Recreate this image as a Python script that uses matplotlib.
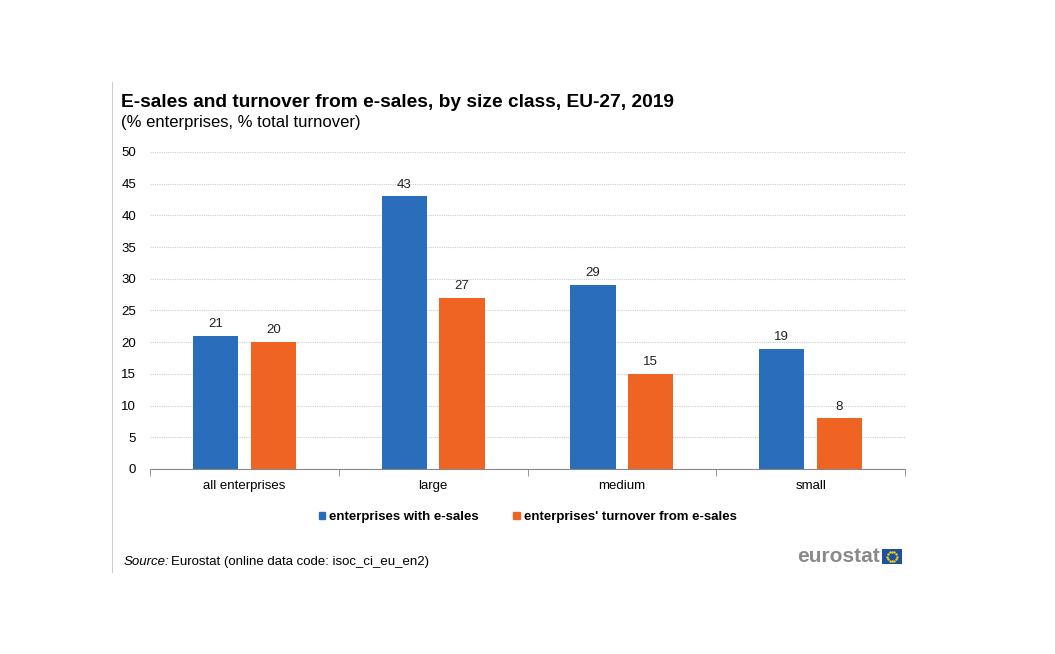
import matplotlib.pyplot as plt
import numpy as np
from matplotlib.patches import Rectangle

plt.rcParams['font.family'] = ['Liberation Sans', 'DejaVu Sans']

categories = ["all enterprises", "large", "medium", "small"]
ent_with_esales = [21, 43, 29, 19]
turnover_esales = [20, 27, 15, 8]
series_names = ["enterprises with e-sales", "enterprises' turnover from e-sales"]

blue = "#2A6EBB"
orange = "#F06423"

fig = plt.figure(figsize=(10.55, 6.54), dpi=100)
ax = fig.add_axes([0.1422, 0.2829, 0.7156, 0.4847])

x = np.arange(len(categories))
w = 0.24
off = 0.153
b1 = ax.bar(x - off, ent_with_esales, w, color=blue)
b2 = ax.bar(x + off, turnover_esales, w, color=orange)
for bars, vals in ((b1, ent_with_esales), (b2, turnover_esales)):
    for r, v in zip(bars, vals):
        ax.text(r.get_x() + r.get_width() / 2, v + 0.9, str(v), ha="center",
                va="bottom", fontsize=9.5, color="#222222")

ax.set_xlim(-0.5, len(categories) - 0.5)
ax.set_ylim(0, 50)
ax.set_yticks(range(0, 51, 5))
ax.set_xticks(x)
ax.set_xticklabels(categories, fontsize=9.5)
ax.set_xticks(np.arange(-0.5, len(categories), 1), minor=True)
ax.tick_params(axis="x", which="major", length=0, pad=8)
ax.tick_params(axis="x", which="minor", length=5, color="#888888")
ax.tick_params(axis="y", length=0, labelsize=9.5, pad=10)
ax.yaxis.grid(True, color="#cccccc", linestyle=(0, (1, 1)), linewidth=0.8)
ax.set_axisbelow(True)
for s in ("top", "right", "left"):
    ax.spines[s].set_visible(False)
ax.spines["bottom"].set_color("#888888")

fig.text(0.1145, 0.836, "E-sales and turnover from e-sales, by size class, EU-27, 2019",
         fontsize=13.8, fontweight="bold")
fig.text(0.1145, 0.806, "(% enterprises, % total turnover)", fontsize=12)

leg = fig.legend([Rectangle((0, 0), 1, 1, color=blue), Rectangle((0, 0), 1, 1, color=orange)],
                 series_names, loc="center", bbox_to_anchor=(0.5, 0.209), ncol=2,
                 frameon=False, handlelength=0.5, handleheight=0.5, handletextpad=0.3,
                 columnspacing=2.6, prop={"weight": "bold", "size": 9.5})

fig.text(0.1175, 0.141, "Source:", fontsize=9.5, style="italic", va="center")
fig.text(0.162, 0.141, "Eurostat (online data code: isoc_ci_eu_en2)", fontsize=9.5, va="center")
fig.text(0.834, 0.149, "eurostat", fontsize=15, fontweight="bold", color="#8a8a8a",
         ha="right", va="center")
fig.patches.append(Rectangle((0.836, 0.137), 0.019, 0.024, transform=fig.transFigure,
                             facecolor="#1F4FA0", edgecolor="none"))
ang = np.linspace(0, 2 * np.pi, 12, endpoint=False)
fig.add_artist(plt.Line2D(0.8455 + 0.0045 * np.cos(ang), 0.149 + 0.0072 * np.sin(ang),
                          linestyle="none", marker="o", markersize=0.7,
                          color="#FFD700", transform=fig.transFigure))
fig.add_artist(plt.Line2D([0.106, 0.106], [0.125, 0.875], color="#cccccc", linewidth=0.8))

fig.savefig("out.png", dpi=100)
